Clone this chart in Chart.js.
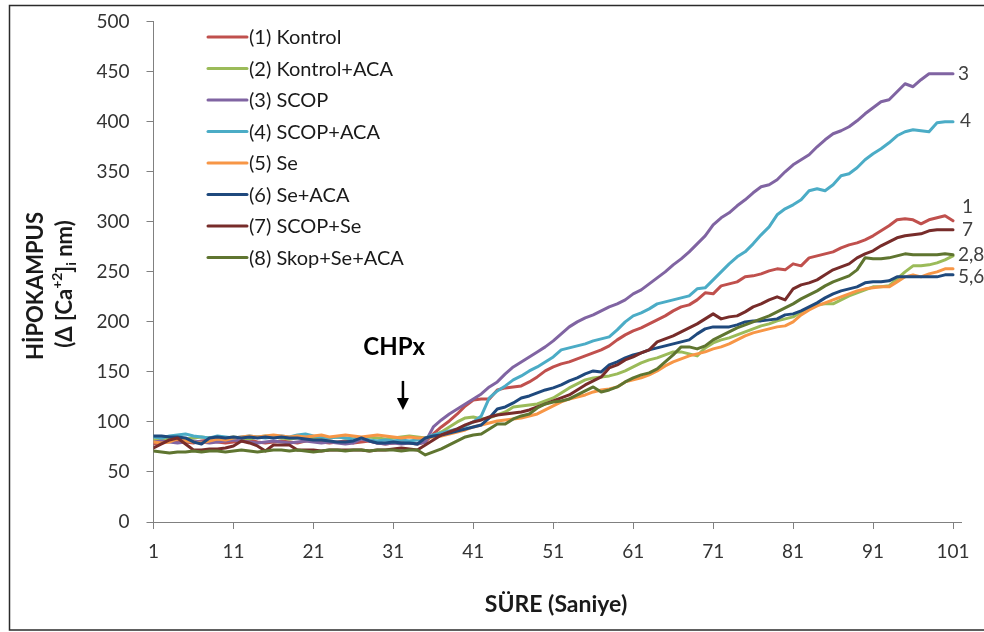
<!DOCTYPE html>
<html>
<head>
<meta charset="utf-8">
<script src="https://cdn.jsdelivr.net/npm/chart.js@4.4.1/dist/chart.umd.min.js"></script>
<style>
  html, body { margin: 0; padding: 0; background: #fff; }
  canvas { display: block; }
</style>
</head>
<body>
<canvas id="chart" width="984" height="632"></canvas>
<script>
// Time in seconds (categories on the x axis)
const seconds = Array.from({ length: 101 }, (_, i) => i + 1);
const xTickLabels = [1, 11, 21, 31, 41, 51, 61, 71, 81, 91, 101];
const yTickStep = 50;

// Hippocampal [Ca2+]i (nM) per group
const kontrol = [78,80,82,81,80,79,81,82,80,79, 80,81,82,80,79,80,81,80,79,81,
  82,80,79,80,81,79,80,81,79,78, 79,80,79,78,80,88,95,101,108,116,
  122,123,123,132,134,135,136,140,145,151, 155,158,160,163,166,169,172,176,182,187,
  191,194,198,202,206,211,215,217,222,229, 228,236,238,240,245,246,248,251,253,252,
  258,256,264,266,268,270,274,277,279,282, 286,291,296,302,303,302,298,302,304,306, 301];

const kontrolAca = [82,83,84,85,83,84,85,84,83,84, 85,84,83,85,86,85,84,83,84,85,
  84,83,84,85,84,83,84,85,84,83, 84,85,86,85,84,86,90,95,100,104,
  105,103,104,107,110,115,116,117,118,121, 124,129,134,138,142,144,145,146,148,151,
  155,159,162,164,167,170,170,168,166,174, 179,182,184,187,190,193,196,198,201,203,
  205,210,214,217,218,218,222,226,229,232, 235,235,236,243,250,256,256,257,259,262, 266];

const scop = [80,81,80,79,80,81,80,79,80,81, 82,81,80,79,80,81,80,79,80,81,
  80,79,80,79,78,79,83,81,79,78, 79,78,79,78,80,95,102,108,113,118,
  123,128,135,140,148,155,160,165,170,175, 181,188,195,200,204,207,211,215,218,222,
  228,232,238,244,250,257,263,270,278,286, 297,304,309,316,322,329,335,337,342,350,
  357,362,367,375,382,388,391,395,401,408, 414,420,422,430,438,435,442,448,448,448, 448];

const scopAca = [85,84,86,87,88,86,85,84,86,85, 84,85,86,85,84,85,86,85,87,88,
  86,85,84,85,84,83,84,82,81,82, 81,82,81,82,84,87,89,91,93,96,
  100,106,124,131,136,142,146,151,155,160, 165,172,174,176,178,181,183,185,192,200,
  206,209,213,218,220,222,224,226,233,234, 242,250,258,265,270,278,287,295,307,313,
  317,322,331,333,331,337,346,348,354,362, 368,373,379,386,390,392,391,390,399,400, 400];

const se = [80,79,80,83,81,80,79,81,83,82, 84,85,86,85,86,87,86,85,86,85,
  86,87,85,86,87,86,85,86,87,86, 85,84,85,84,84,85,86,88,90,92,
  95,97,99,101,102,103,104,106,108,112, 116,120,123,125,127,130,132,133,135,140,
  142,144,147,151,156,160,163,166,168,170, 173,175,178,182,186,189,191,193,195,196,
  200,207,212,216,219,222,225,228,231,233, 234,235,235,240,245,247,245,248,250,253, 253];

const seAca = [86,86,85,85,84,80,78,84,85,84, 85,84,85,84,85,84,85,84,84,83,
  82,82,81,80,80,81,84,81,79,79, 80,79,79,78,84,86,87,89,91,93,
  95,97,104,113,115,119,124,126,129,132, 134,137,141,144,148,151,150,157,160,164,
  167,169,172,174,176,178,180,182,188,193, 195,195,195,197,200,201,201,202,203,207,
  208,211,215,219,224,228,231,233,235,239, 240,240,241,245,245,245,245,245,245,247, 247];

const scopSe = [74,78,82,84,78,72,72,73,73,74, 76,81,79,76,71,77,77,77,72,72,
  72,71,72,72,72,72,72,71,72,72, 73,74,73,72,77,82,87,90,93,97,
  100,102,105,107,108,109,110,112,115,118, 121,124,127,132,137,141,145,154,157,162,
  165,169,172,180,183,186,190,194,198,203, 208,203,205,206,210,215,218,222,225,222,
  233,237,239,242,247,252,255,258,264,268, 271,276,280,284,286,287,288,291,292,292, 292];

const skopSeAca = [71,70,69,70,70,71,70,71,71,70, 71,72,71,70,71,72,72,71,72,71,
  70,71,72,72,71,72,72,71,72,72, 72,71,72,72,67,70,73,77,81,85,
  87,88,93,98,98,103,106,108,114,118, 120,121,123,127,131,135,130,132,135,140,
  144,147,149,153,160,167,175,175,173,176, 182,186,190,194,197,200,203,206,210,214,
  218,223,227,231,236,240,243,246,252,264, 263,263,264,266,268,267,267,267,267,268, 267];

const groups = [
  { label: '(1) Kontrol',       data: kontrol,    color: '#C0504D' },
  { label: '(2) Kontrol+ACA',   data: kontrolAca, color: '#9BBB59' },
  { label: '(3) SCOP',          data: scop,       color: '#8064A2' },
  { label: '(4) SCOP+ACA',      data: scopAca,    color: '#4BACC6' },
  { label: '(5) Se',            data: se,         color: '#F79646' },
  { label: '(6) Se+ACA',        data: seAca,      color: '#1F497D' },
  { label: '(7) SCOP+Se',       data: scopSe,     color: '#772C2A' },
  { label: '(8) Skop+Se+ACA',   data: skopSeAca,  color: '#5F7530' }
];

// End-of-line group tags: text, series index it sits next to, vertical nudge, horizontal gap
const endTags = [
  { text: '3',   series: 2, dy: 0,   dx: 5 },
  { text: '4',   series: 3, dy: -1,  dx: 7 },
  { text: '1',   series: 0, dy: -14, dx: 9 },
  { text: '7',   series: 6, dy: 0,   dx: 9 },
  { text: '2,8', series: 7, dy: 0,   dx: 5 },
  { text: '5,6', series: 5, dy: 2,   dx: 5 }
];

const FONT = 'Lato, "Open Sans", "Noto Sans", sans-serif';
const TEXT = '#333333';
const AXIS = '#808080';

const decorations = {
  id: 'decorations',
  beforeDraw(chart) {
    const ctx = chart.ctx;
    ctx.save();
    ctx.fillStyle = '#ffffff';
    ctx.fillRect(0, 0, chart.width, chart.height);
    ctx.restore();
  },
  afterDraw(chart) {
    const ctx = chart.ctx;
    const xs = chart.scales.x, ys = chart.scales.y;
    ctx.save();

    // frame
    ctx.strokeStyle = '#2b2b2b';
    ctx.lineWidth = 1.5;
    ctx.strokeRect(9.5, 5.5, 1000, 624.5);

    // legend
    ctx.textBaseline = 'middle';
    ctx.textAlign = 'left';
    ctx.font = '20px ' + FONT;
    groups.forEach((g, i) => {
      const y = 37 + i * 31.5;
      ctx.strokeStyle = g.color;
      ctx.lineWidth = 3;
      ctx.lineCap = 'round';
      ctx.beginPath();
      ctx.moveTo(208, y);
      ctx.lineTo(247, y);
      ctx.stroke();
      ctx.fillStyle = '#1a1a1a';
      ctx.fillText(g.label, 249, y + 1);
    });

    // end-of-line tags
    ctx.font = '19px ' + FONT;
    ctx.fillStyle = '#404040';
    endTags.forEach(t => {
      const d = groups[t.series].data;
      const last = d.length - 1;
      const px = xs.getPixelForValue(seconds[last]) + t.dx;
      const py = ys.getPixelForValue(d[last]) + t.dy;
      ctx.fillText(t.text, px, py);
    });

    // CHPx marker
    ctx.fillStyle = '#000';
    ctx.strokeStyle = '#000';
    ctx.font = 'bold 24px ' + FONT;
    ctx.textAlign = 'center';
    ctx.fillText('CHPx', xs.getPixelForValue(31.1), ys.getPixelForValue(175));
    const ax = xs.getPixelForValue(32.2);
    const aTop = ys.getPixelForValue(141);
    const aTip = ys.getPixelForValue(112);
    ctx.lineWidth = 2.5;
    ctx.lineCap = 'butt';
    ctx.beginPath();
    ctx.moveTo(ax, aTop);
    ctx.lineTo(ax, aTip - 8);
    ctx.stroke();
    ctx.beginPath();
    ctx.moveTo(ax - 6, aTip - 12);
    ctx.lineTo(ax + 6, aTip - 12);
    ctx.lineTo(ax, aTip);
    ctx.closePath();
    ctx.fill();

    // x axis title
    ctx.fillStyle = '#1a1a1a';
    ctx.font = 'bold 23px ' + FONT;
    ctx.fillText('SÜRE (Saniye)', 556, 605);

    // y axis title (two lines, rotated)
    ctx.save();
    ctx.translate(36, 286);
    ctx.rotate(-Math.PI / 2);
    ctx.font = 'bold 22px ' + FONT;
    ctx.fillText('HİPOKAMPUS', 0, 0);
    ctx.restore();

    ctx.save();
    ctx.translate(65, 284);
    ctx.rotate(-Math.PI / 2);
    ctx.textAlign = 'left';
    const big = 'bold 22px ' + FONT, small = 'bold 14px ' + FONT;
    const parts = [
      { t: '(Δ [Ca', f: big, dy: 0 },
      { t: '+2', f: small, dy: -8 },
      { t: ']', f: big, dy: 0 },
      { t: 'i', f: small, dy: 6 },
      { t: ' nm)', f: big, dy: 0 }
    ];
    let total = 0;
    parts.forEach(p => { ctx.font = p.f; p.w = ctx.measureText(p.t).width; total += p.w; });
    let cx = -total / 2;
    parts.forEach(p => { ctx.font = p.f; ctx.fillText(p.t, cx, p.dy); cx += p.w; });
    ctx.restore();

    ctx.restore();
  }
};

new Chart(document.getElementById('chart'), {
  type: 'line',
  data: {
    labels: seconds,
    datasets: groups.map((g, i) => ({
      label: g.label,
      data: g.data,
      borderColor: g.color,
      backgroundColor: g.color,
      borderWidth: 3,
      pointRadius: 0,
      tension: 0,
      fill: false,
      borderJoinStyle: 'round',
      borderCapStyle: 'round',
      order: groups.length - 1 - i
    }))
  },
  options: {
    responsive: false,
    animation: false,
    devicePixelRatio: 1,
    layout: { padding: { left: 0, right: 23, top: 21.7, bottom: 0 } },
    plugins: { legend: { display: false }, tooltip: { enabled: false } },
    scales: {
      x: {
        type: 'linear',
        min: 1,
        max: 102,
        afterBuildTicks: s => { s.ticks = xTickLabels.map(v => ({ value: v })); },
        afterFit: s => { s.height = 110; s.paddingLeft = 0; s.paddingRight = 0; },
        grid: { drawOnChartArea: false, drawTicks: true, tickLength: 7, color: AXIS },
        border: { display: true, color: AXIS, width: 1 },
        ticks: {
          autoSkip: false,
          maxRotation: 0,
          padding: 11,
          color: TEXT,
          font: { family: FONT, size: 19 },
          callback: v => String(v)
        }
      },
      y: {
        min: 0,
        max: 500,
        afterFit: s => { s.width = 153.5; s.paddingTop = 0; s.paddingBottom = 0; },
        grid: { drawOnChartArea: false, drawTicks: true, tickLength: 7, color: AXIS },
        border: { display: true, color: AXIS, width: 1 },
        ticks: {
          stepSize: yTickStep,
          padding: 17,
          color: TEXT,
          font: { family: FONT, size: 19 }
        }
      }
    }
  },
  plugins: [decorations]
});
</script>
</body>
</html>
